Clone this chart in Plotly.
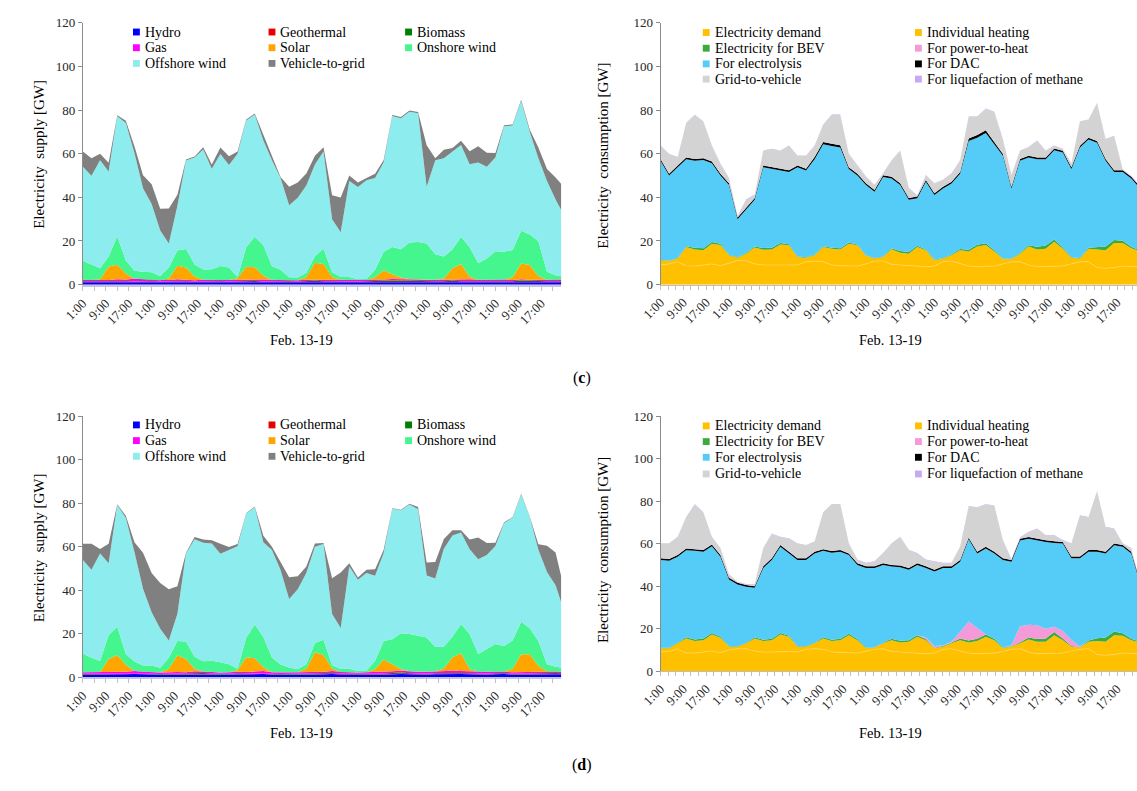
import plotly.graph_objects as go

W, H = 1137, 791
FONT = "Liberation Serif"

# hours since Feb. 13 1:00 (3-hourly samples)
HOURS = list(range(0, 166, 3)) + [167]
TICK_LABELS = ["1:00", "9:00", "17:00"] * 7

# ---------------- (c) supply ----------------
hydro_c = [1.1, 1.1, 1.0, 1.1, 1.2, 1.1, 1.0, 1.1, 1.1, 1.0,
           1.1, 1.2, 1.1, 1.0, 1.1, 1.1, 1.1, 1.0, 1.1, 1.2,
           1.1, 1.0, 1.1, 1.1, 1.1, 1.0, 1.1, 1.2, 1.1, 1.0,
           1.1, 1.1, 1.0, 1.1, 1.1, 1.2, 1.3, 1.1, 1.1, 1.1,
           1.0, 1.1, 1.1, 1.2, 1.1, 1.1, 1.1, 1.0, 1.1, 1.1,
           1.1, 1.2, 1.1, 1.0, 1.1, 1.1, 1.1]
geo_c = [0.15, 0.15, 0.15, 0.15, 0.15, 0.15, 0.15, 0.15, 0.15, 0.15,
         0.15, 0.15, 0.15, 0.15, 0.15, 0.15, 0.15, 0.15, 0.15, 0.15,
         0.15, 0.15, 0.15, 0.15, 0.15, 0.15, 0.15, 0.15, 0.15, 0.15,
         0.15, 0.15, 0.15, 0.15, 0.15, 0.15, 0.15, 0.15, 0.15, 0.15,
         0.15, 0.15, 0.15, 0.15, 0.15, 0.15, 0.15, 0.15, 0.15, 0.15,
         0.15, 0.15, 0.15, 0.15, 0.15, 0.15, 0.15]
bio_c = [0.3, 0.3, 0.4, 0.3, 0.5, 0.3, 0.3, 0.4, 0.3, 0.3,
         0.3, 0.4, 0.3, 0.3, 0.3, 0.4, 0.3, 0.3, 0.3, 0.5,
         0.4, 0.3, 0.3, 0.3, 0.3, 0.3, 0.4, 0.4, 0.3, 0.3,
         0.3, 0.3, 0.3, 0.3, 0.3, 0.4, 0.5, 0.6, 0.3, 0.3,
         0.3, 0.3, 0.3, 0.4, 0.3, 0.3, 0.3, 0.3, 0.3, 0.3,
         0.3, 0.5, 0.4, 0.3, 0.3, 0.3, 0.3]
gas_c = [0.7, 0.6, 0.7, 0.6, 0.6, 0.8, 1.2, 0.8, 0.7, 0.6,
         0.6, 0.7, 0.6, 0.6, 0.7, 0.7, 0.6, 0.7, 0.7, 0.6,
         0.6, 0.9, 0.7, 0.6, 0.6, 0.6, 0.6, 0.6, 0.7, 0.8,
         0.7, 0.7, 0.6, 0.6, 0.6, 0.6, 0.6, 0.7, 1.0, 0.8,
         0.7, 0.7, 0.6, 0.6, 0.7, 0.9, 0.7, 0.8, 1.0, 0.8,
         0.6, 0.6, 0.6, 0.7, 0.7, 0.8, 0.8]
solar_c = [0, 0, 0.2, 6.2, 6.7, 2.7, 0, 0, 0, 0,
           0.7, 6.2, 5.7, 1.7, 0, 0, 0, 0, 0.7, 5.7,
           5.7, 1.7, 0, 0, 0, 0, 1.2, 7.7, 7.2, 1.2,
           0, 0, 0, 0, 1.2, 4.2, 2.2, 0.7, 0, 0,
           0, 0, 0.7, 5.2, 7.2, 1.2, 0, 0, 0, 0,
           1.2, 7.2, 6.7, 1.7, 0, 0, 0]
onshore_c = [8.7, 7.2, 5.0, 4.5, 13, 6, 3.7, 3.4, 3.4, 1.9,
             5, 7, 8.5, 5.5, 4.7, 4.7, 6.4, 5.7, 0.5, 9,
             14, 14, 6.2, 4.7, 1.2, 1.2, 2, 3, 7, 2.2,
             1.2, 1.2, 0.4, 0.4, 3.5, 8.5, 12.5, 13, 16.7, 17.2,
             16.7, 11.7, 10, 8.5, 12.5, 13.5, 7.7, 9.7, 12.7, 12.7,
             12.5, 15, 14, 16, 3.7, 2.0, 1.7]
offshore_c = [43, 40.5, 49.5, 39, 55, 63, 54, 38.3, 31.3, 20.8,
              11, 20.5, 40.5, 49, 55, 46, 51.3, 47, 56.5, 58,
              56, 48, 48.5, 42, 33, 36.5, 40, 42, 44.5, 24.3,
              20.5, 44, 42.3, 45.3, 42, 41, 60, 60, 60, 59,
              26, 43, 45, 45, 42, 38, 46, 42, 43, 57.5,
              57, 59.5, 47, 38, 41.5, 34.7, 30]
v2g_c = [7, 8, 3, 4, 0.5, 1, 3, 6, 9, 10,
         16, 5, 0.5, 0.5, 1, 2, 3, 4, 1, 0.5,
         0.5, 3, 2, 0.5, 8.5, 7, 5.5, 4, 2, 11,
         16, 2.5, 2, 1, 2, 1, 0.5, 0.5, 0.5, 0.5,
         19, 1, 4, 1.5, 2, 6, 7.5, 6.5, 2, 0.5,
         0.5, 0.5, 1, 5, 5.5, 10, 12]

# ---------------- (d) supply ----------------
hydro_d = [1.1, 1.1, 1.0, 1.1, 1.1, 1.3, 1.4, 1.2, 1.1, 1.0,
           1.1, 1.1, 1.1, 1.3, 1.4, 1.1, 1.0, 1.1, 1.3, 1.2,
           1.3, 1.4, 1.1, 1.0, 1.1, 1.1, 1.0, 1.1, 1.3, 1.4,
           1.2, 1.1, 1.0, 1.1, 1.1, 1.1, 1.4, 1.4, 1.3, 1.1,
           1.1, 1.3, 1.4, 1.4, 1.4, 1.3, 1.1, 1.1, 1.3, 1.4,
           1.1, 1.1, 1.1, 1.2, 1.4, 1.4, 1.3]
geo_d = [0.15, 0.15, 0.15, 0.15, 0.15, 0.15, 0.15, 0.15, 0.15, 0.15,
         0.15, 0.15, 0.15, 0.15, 0.15, 0.15, 0.15, 0.15, 0.15, 0.15,
         0.15, 0.15, 0.15, 0.15, 0.15, 0.15, 0.15, 0.15, 0.15, 0.15,
         0.15, 0.15, 0.15, 0.15, 0.15, 0.15, 0.15, 0.15, 0.15, 0.15,
         0.15, 0.15, 0.15, 0.15, 0.15, 0.15, 0.15, 0.15, 0.15, 0.15,
         0.15, 0.15, 0.15, 0.15, 0.15, 0.15, 0.15]
bio_d = [0.3, 0.3, 0.4, 0.3, 0.4, 0.3, 0.3, 0.4, 0.3, 0.3,
         0.3, 0.4, 0.3, 0.3, 0.3, 0.4, 0.3, 0.3, 0.3, 0.4,
         0.4, 0.3, 0.3, 0.3, 0.3, 0.3, 0.4, 0.4, 0.3, 0.3,
         0.3, 0.3, 0.3, 0.3, 0.3, 0.4, 0.4, 0.5, 0.3, 0.3,
         0.3, 0.3, 0.3, 0.4, 0.3, 0.3, 0.3, 0.3, 0.3, 0.3,
         0.3, 0.4, 0.4, 0.3, 0.3, 0.3, 0.3]
gas_d = [0.6, 0.6, 0.6, 0.6, 0.8, 0.7, 0.9, 0.7, 0.6, 0.6,
         0.6, 0.7, 0.6, 0.9, 0.7, 0.6, 0.6, 0.6, 0.7, 0.6,
         0.6, 0.9, 0.7, 0.6, 0.6, 0.6, 0.6, 0.6, 0.7, 0.9,
         0.7, 0.6, 0.6, 0.6, 0.8, 0.7, 0.7, 0.9, 0.9, 0.9,
         0.9, 0.9, 0.9, 0.9, 0.9, 0.8, 0.9, 0.9, 0.8, 0.7,
         0.6, 0.6, 0.6, 0.7, 0.8, 0.7, 0.7]
solar_d = [0, 0, 0.2, 6.2, 7.7, 3.2, 0, 0, 0, 0,
           1.7, 7.7, 6.2, 1.2, 0, 0, 0, 0, 0.7, 6.7,
           6.2, 1.7, 0, 0, 0, 0, 1.7, 9.2, 7.7, 1.2,
           0, 0, 0, 0, 1.2, 5.7, 3.2, 0.7, 0, 0,
           0, 0, 1.2, 6.2, 8.2, 1.2, 0, 0, 0, 0,
           1.7, 8.2, 8.2, 2.7, 0, 0, 0]
onshore_d = [8.7, 6.7, 5, 11, 13, 5, 4.4, 2.9, 3.2, 2.2,
             5, 6.5, 8, 5.5, 4.7, 5.2, 4.7, 3.7, 0.7, 9,
             15.5, 14, 6.7, 3.7, 2.2, 1.4, 2, 4.2, 7, 1.5,
             1.4, 1.7, 0.7, 0.7, 4, 8.5, 11.5, 16.5, 17.2, 16.4,
             15.7, 11.2, 10, 9.5, 13.5, 16, 8.2, 10.4, 12.7, 11.7,
             13, 15, 12, 11.5, 3.2, 2.2, 1.9]
offshore_d = [43, 40.5, 49.5, 33, 56, 62.5, 50.3, 35.3, 24.5, 18,
              8, 12.5, 40.5, 54, 54.5, 54, 50, 52.5, 56.3, 57,
              54, 43.5, 49.5, 43.5, 31.5, 36.8, 42, 44.3, 44, 23.5,
              18.8, 47, 42, 45, 39, 40.5, 60, 56.5, 59.5, 58.3,
              28.5, 31.5, 45, 46.5, 42, 39, 43.5, 43.3, 45, 56.5,
              56.5, 58.5, 51, 42, 42.5, 37.5, 29.8]
v2g_d = [7.5, 12, 2, 9, 0.3, 1, 4.5, 16.5, 18, 21,
         23.5, 12.7, 0.3, 1, 1.5, 1.5, 4.5, 1.5, 1, 0.3,
         0.3, 3, 1.5, 3.5, 10, 6, 3, 1.5, 0.5, 16.5,
         25.5, 1.5, 1, 1.5, 3, 1.5, 0.3, 0.3, 0.3, 1,
         6, 7.5, 4.5, 2.5, 1, 4.5, 10, 5.5, 1.5, 0.3,
         0.3, 0.3, 0.3, 2.5, 12, 15, 12]

# ---------------- (c) consumption ----------------
demand_c = [9, 9.5, 10.5, 8.5, 8.5, 9, 9.5, 8.7, 10, 11,
            11, 9.5, 9, 9, 9.3, 9.3, 9, 10.5, 10.8, 10.5,
            9, 8.7, 8.7, 8.5, 9.5, 10.8, 10.8, 9.3, 9, 8.7,
            8.5, 8.2, 8.5, 10.5, 10.8, 9.5, 8.5, 8.2, 8.2, 8.5,
            9.5, 10.5, 10.5, 9, 8.2, 8.2, 8.2, 8.5, 9.5, 10.5,
            10.5, 7.8, 7.5, 7.8, 8.5, 8.2, 8.2]
heating_c = [2.2, 1.3, 1.5, 8.7, 7.6, 6.7, 9.2, 9.5, 3.5, 1.3,
             3.2, 7.5, 7, 7.1, 9.1, 8.7, 3.7, 1.8, 2.7, 6.7,
             7.4, 7.4, 10, 9.5, 3.7, 1.2, 1.9, 6.9, 5.6, 5.5,
             8.7, 7.5, 2.7, 1.5, 2.7, 6.2, 6.7, 9.3, 10, 6.7,
             2.2, 1.2, 3.7, 8.5, 7.9, 8.2, 11.5, 7.9, 2.8, 1.5,
             5.9, 8.3, 8.2, 11.3, 10.6, 8.5, 7.5]
bev_c = [0.2, 0.2, 0.2, 0.4, 0.8, 1.0, 0.8, 0.5, 0.2, 0.2,
         0.3, 0.5, 0.8, 0.8, 0.7, 0.5, 0.2, 0.2, 0.2, 0.4,
         0.5, 0.6, 0.6, 0.4, 0.2, 0.2, 0.2, 0.5, 0.8, 0.8,
         0.6, 0.4, 0.2, 0.2, 0.3, 0.6, 0.8, 0.8, 0.8, 0.5,
         0.2, 0.2, 0.3, 0.6, 1.2, 1.5, 1.0, 0.6, 0.2, 0.2,
         0.5, 1.2, 1.8, 1.3, 1.0, 0.6, 0.5]
p2h_c = [0, 0, 0, 0, 0, 0, 0, 0, 0, 0,
         0, 0, 0, 0, 0, 0, 0, 0, 0, 0,
         0, 0, 0, 0, 0, 0, 0, 0, 0, 0,
         0, 0, 0, 0, 0, 0, 0, 0, 0, 0,
         0, 0, 0, 0, 0, 0, 0, 0, 0, 0,
         0, 0, 0, 0, 0, 0, 0]
electrolysis_c = [45.4, 39, 41.6, 39.9, 39.9, 40.4, 36.1, 31.3, 31.9, 17.4,
                  19.9, 21.4, 37, 36.1, 33.2, 33.1, 40.9, 39.8, 43.8, 46.7,
                  46.6, 46.1, 33.7, 31.6, 32.2, 30.4, 36.4, 31.9, 30.2, 23.9,
                  21.8, 31, 29.7, 31.9, 32.5, 34.5, 49.8, 49, 50.5, 48.6,
                  47.1, 32.2, 42.3, 40.2, 40.2, 39.6, 40.9, 43.5, 40.5, 50.6,
                  49.6, 47.7, 39.3, 31.2, 31.5, 31.3, 29.4]
dac_c = [0.8, 0.8, 0.8, 0.8, 0.8, 0.8, 0.8, 0.8, 0.8, 0.8,
         0.8, 0.8, 0.8, 0.8, 0.8, 0.8, 0.8, 0.8, 1.0, 1.0,
         1.0, 1.0, 0.8, 0.8, 0.8, 0.8, 0.8, 0.8, 0.8, 0.8,
         0.8, 0.8, 0.8, 0.8, 0.8, 0.8, 1.2, 1.2, 1.2, 1.2,
         0.8, 0.8, 0.8, 0.8, 0.8, 0.8, 0.8, 0.8, 0.8, 0.8,
         0.8, 0.8, 0.8, 0.8, 0.8, 0.8, 0.8]
g2v_c = [5.9, 9, 3.7, 15.7, 20, 16.8, 7.1, 4.5, 2.2, 0.7,
         3.7, 1.4, 6.7, 8.2, 8.2, 11.1, 4.4, 5.9, 5.0, 7.9,
         13.2, 13.9, 6, 3.8, 2.9, 2.2, 0.7, 7.4, 14.9, 4.4,
         0.3, 2.1, 4.4, 2.9, 3.7, 5.2, 9.8, 8.3, 9.8, 13.5,
         6.7, 5.1, 3.7, 3.7, 7.5, 3, 1.1, 0.7, 1.5, 11.1,
         8.2, 17.2, 8.9, 15.6, 0.3, 0.3, 0.3]
liq_c = [0.2, 0.2, 0.2, 0.2, 0.2, 0.2, 0.2, 0.2, 0.2, 0.2,
         0.2, 0.2, 0.2, 0.2, 0.2, 0.2, 0.2, 0.2, 0.2, 0.2,
         0.2, 0.2, 0.2, 0.2, 0.2, 0.2, 0.2, 0.2, 0.2, 0.2,
         0.2, 0.2, 0.2, 0.2, 0.2, 0.2, 0.2, 0.2, 0.2, 0.2,
         0.2, 0.2, 0.2, 0.2, 0.2, 0.2, 0.2, 0.2, 0.2, 0.2,
         0.2, 0.2, 0.2, 0.2, 0.2, 0.2, 0.2]

# ---------------- (d) consumption ----------------
demand_d = [9, 9.3, 10.5, 8.5, 8.5, 9, 9.5, 8.7, 10, 10.5,
            10.5, 9.5, 9, 9, 9.3, 9.3, 9, 10.3, 10.5, 10.3,
            9, 8.7, 8.7, 8.5, 9.3, 10.3, 10.5, 9.3, 9, 8.7,
            8.5, 8.2, 8.5, 10.3, 10.5, 9.5, 8.5, 8.2, 8.2, 8.5,
            9.3, 10.3, 10.5, 9, 8.2, 8.2, 8.2, 8.5, 9.5, 10.3,
            10.5, 7.8, 7.5, 7.8, 8.5, 8.2, 8.2]
heating_d = [1.8, 1.5, 2.6, 6.9, 5.7, 5.6, 7.7, 7.0, 1.5, 1.0,
             2.6, 5.9, 5.2, 5.6, 7.9, 6.9, 2.5, 1.2, 2.6, 5.1,
             5.2, 5.9, 8.2, 6.1, 1.5, 0.8, 2.6, 5.3, 4.5, 5.1,
             7.7, 6.4, 2.3, 1.2, 2.6, 5.1, 5.0, 6.0, 8.0, 6.1,
             1.5, 1.2, 2.6, 5.9, 5.6, 5.6, 8.7, 6.1, 2.0, 0.8,
             3.3, 6.4, 6.3, 9.1, 8.1, 6.4, 5.6]
bev_d = [0.2, 0.2, 0.3, 0.5, 0.7, 0.8, 0.8, 0.5, 0.2, 0.2,
         0.3, 0.5, 0.6, 0.7, 0.7, 0.5, 0.2, 0.2, 0.3, 0.5,
         0.6, 0.7, 0.7, 0.5, 0.2, 0.2, 0.3, 0.6, 0.8, 0.8,
         0.7, 0.5, 0.2, 0.3, 0.4, 0.8, 0.9, 1.0, 1.0, 0.6,
         0.2, 0.2, 0.5, 0.9, 1.3, 1.6, 1.5, 0.8, 0.3, 0.2,
         0.6, 1.3, 2.0, 1.8, 1.2, 0.6, 0.5]
p2h_d = [0, 0, 0, 0, 0, 0, 0, 0, 0, 0,
         0, 0, 0, 0, 0, 0, 0, 0, 0, 0,
         0, 0, 0, 0, 0, 0, 0, 0, 0, 0,
         0, 0.8, 0.8, 0.3, 0.5, 3, 9, 5, 0, 0,
         0, 0.5, 7.5, 6, 6.5, 4.5, 2.5, 3.5, 3, 0.3,
         0, 0, 0, 0, 0, 0, 0]
electrolysis_d = [41.3, 41, 40.4, 41, 41.7, 40.8, 40.8, 37.6, 31.4, 29.1,
                  26.3, 23.3, 33.7, 37, 40.6, 38.7, 40.6, 40.6, 42, 40.7,
                  40.9, 40.9, 37, 34.9, 37.5, 37.2, 36.6, 34, 34.6, 33.1,
                  33.1, 32.6, 35.1, 36.4, 34.5, 33.1, 38.6, 35.2, 40.5, 40.2,
                  41.3, 39.3, 40.4, 40.5, 39.9, 40.9, 39.4, 41.1, 38.3, 41.5,
                  41.8, 40.7, 39.6, 40.5, 40.7, 40.2, 31.9]
dac_d = [0.8, 0.8, 0.8, 0.8, 0.8, 0.8, 0.8, 0.8, 0.8, 0.8,
         0.8, 0.8, 0.8, 0.8, 0.8, 0.8, 0.8, 0.8, 0.8, 0.8,
         0.8, 0.8, 0.8, 0.8, 0.8, 0.8, 0.8, 0.8, 0.8, 0.8,
         0.8, 0.8, 0.8, 0.8, 0.8, 0.8, 0.8, 0.8, 0.8, 0.8,
         0.8, 0.8, 0.8, 0.8, 0.8, 0.8, 0.8, 0.8, 0.8, 0.8,
         0.8, 0.8, 0.8, 0.8, 0.8, 0.8, 0.8]
g2v_d = [6.9, 7.2, 8.4, 14.6, 21.1, 17.6, 3.4, 3.1, 1.5, 0.3,
         0.3, 0.8, 8.4, 11.5, 3.7, 6.1, 6.9, 6.1, 4.6, 17.2,
         22, 21.5, 4.6, 1.5, 1.5, 2.2, 4.6, 10, 13.3, 8.4,
         4.6, 3, 3.8, 1.5, 1.5, 6.2, 14.7, 20.7, 20, 21.5,
         8.4, 0.3, 0.5, 2.3, 4.6, 2.2, 2.7, 0.7, 6.1, 19.2,
         15.3, 27.6, 11.5, 6.9, 0.7, 1.5, 0.3]
liq_d = [0.2, 0.2, 0.2, 0.2, 0.2, 0.2, 0.2, 0.2, 0.2, 0.2,
         0.2, 0.2, 0.2, 0.2, 0.2, 0.2, 0.2, 0.2, 0.2, 0.2,
         0.2, 0.2, 0.2, 0.2, 0.2, 0.2, 0.2, 0.2, 0.2, 0.2,
         0.2, 0.2, 0.2, 0.2, 0.2, 0.2, 0.2, 0.2, 0.2, 0.2,
         0.2, 0.2, 0.2, 0.2, 0.2, 0.2, 0.2, 0.2, 0.2, 0.2,
         0.2, 0.2, 0.2, 0.2, 0.2, 0.2, 0.2]

SUPPLY_NAMES = ["Hydro", "Geothermal", "Biomass", "Gas", "Solar",
                "Onshore wind", "Offshore wind", "Vehicle-to-grid"]
SUPPLY_COLORS = ["#0000FF", "#E60000", "#008000", "#FF00FF", "#FFA500",
                 "#45F58E", "#8CECEE", "#808080"]
CONS_NAMES = ["Electricity demand", "Individual heating", "Electricity for BEV",
              "For power-to-heat", "For electrolysis", "For DAC",
              "Grid-to-vehicle", "For liquefaction of methane"]
CONS_COLORS = ["#FFC000", "#FFC000", "#3DAA3D", "#F49AD9", "#55CCF8",
               "#000000", "#D3D3D3", "#C8A8F0"]

supply_c = [hydro_c, geo_c, bio_c, gas_c, solar_c, onshore_c, offshore_c, v2g_c]
supply_d = [hydro_d, geo_d, bio_d, gas_d, solar_d, onshore_d, offshore_d, v2g_d]
cons_c = [demand_c, heating_c, bev_c, p2h_c, electrolysis_c, dac_c, g2v_c, liq_c]
cons_d = [demand_d, heating_d, bev_d, p2h_d, electrolysis_d, dac_d, g2v_d, liq_d]

for s in supply_c + supply_d + cons_c + cons_d:
    assert len(s) == len(HOURS), len(s)

fig = go.Figure()


def add_stack(series, names, colors, xa, ya, group):
    for vals, name, col in zip(series, names, colors):
        line = dict(width=0, color=col)
        if name == "Electricity demand":
            line = dict(width=0.7, color="#FFD75E")
        fig.add_trace(go.Scatter(
            x=HOURS, y=vals, name=name, mode="lines", stackgroup=group,
            line=line, fillcolor=col, xaxis=xa, yaxis=ya,
            showlegend=False, hoverinfo="skip"))


add_stack(supply_c, SUPPLY_NAMES, SUPPLY_COLORS, "x", "y", "sc")
add_stack(cons_c, CONS_NAMES, CONS_COLORS, "x2", "y2", "cc")
add_stack(supply_d, SUPPLY_NAMES, SUPPLY_COLORS, "x3", "y3", "sd")
add_stack(cons_d, CONS_NAMES, CONS_COLORS, "x4", "y4", "cd")


def px(x):
    return x / W


def py(y):
    return 1 - y / H


LEFT_X = [px(64), px(551)]
RIGHT_X = [px(652), 1.0]
TOP_Y = [py(283), py(16)]
BL_Y = [py(683), py(417)]
BR_Y = [py(677), py(417)]

tick_font = dict(family=FONT, size=13, color="#262626")

left_tv = [v for v in range(0, 167, 4)]
left_tt = [TICK_LABELS[v // 8] if v % 8 == 0 else "" for v in left_tv]
right_tv = [k * 8 / 3 for k in range(0, 63)]
right_tt = [TICK_LABELS[k // 3] if k % 3 == 0 else "" for k in range(0, 63)]


def xaxis_cfg(domain, anchor, tv, tt, linecol, lw):
    return dict(domain=domain, anchor=anchor, range=[0, 167],
                tickmode="array", tickvals=tv, ticktext=tt, tickangle=-45,
                ticks="outside", ticklen=4, tickcolor="#BFBFBF",
                showline=True, linecolor=linecol, linewidth=lw,
                showgrid=False, zeroline=False, tickfont=tick_font)


def yaxis_cfg(domain, anchor):
    return dict(domain=domain, anchor=anchor, range=[0, 120],
                tickmode="array", tickvals=[0, 20, 40, 60, 80, 100, 120],
                ticks="outside", ticklen=4, tickcolor="#8C8C8C",
                showline=True, linecolor="#8C8C8C", linewidth=1,
                showgrid=False, zeroline=False, tickfont=tick_font)


fig.update_layout(
    width=W, height=H, margin=dict(l=0, r=0, t=0, b=0),
    paper_bgcolor="white", plot_bgcolor="white",
    showlegend=False,
    xaxis=xaxis_cfg(LEFT_X, "y", left_tv, left_tt, "#C4C4DE", 2),
    yaxis=yaxis_cfg(TOP_Y, "x"),
    xaxis2=xaxis_cfg(RIGHT_X, "y2", right_tv, right_tt, "#BFBFBF", 1),
    yaxis2=yaxis_cfg(TOP_Y, "x2"),
    xaxis3=xaxis_cfg(LEFT_X, "y3", left_tv, left_tt, "#C4C4DE", 2),
    yaxis3=yaxis_cfg(BL_Y, "x3"),
    xaxis4=xaxis_cfg(RIGHT_X, "y4", right_tv, right_tt, "#BFBFBF", 1),
    yaxis4=yaxis_cfg(BR_Y, "x4"),
)

annotations = []
shapes = []
LEG_FONT = dict(family=FONT, size=14, color="#000000")


def legend_block(names, colors, sq_xs, txt_xs, rows, ncol):
    for k, (name, col) in enumerate(zip(names, colors)):
        r, c = divmod(k, ncol)
        yc = rows[r]
        x0 = sq_xs[c]
        shapes.append(dict(type="rect", xref="paper", yref="paper",
                           x0=px(x0), x1=px(x0 + 7), y0=py(yc + 3.5), y1=py(yc - 3.5),
                           fillcolor=col, line=dict(width=0)))
        annotations.append(dict(xref="paper", yref="paper", x=px(txt_xs[c]), y=py(yc),
                                text=name, showarrow=False, xanchor="left",
                                yanchor="middle", font=LEG_FONT))


legend_block(SUPPLY_NAMES, SUPPLY_COLORS, [115, 253, 392], [125, 263, 402],
             [25.5, 41.5, 57.5], 3)
legend_block(SUPPLY_NAMES, SUPPLY_COLORS, [115, 253, 392], [125, 263, 402],
             [426, 442, 458], 3)
legend_block(CONS_NAMES, CONS_COLORS, [695, 911], [705, 921],
             [26, 42, 58, 73.5], 2)
legend_block(CONS_NAMES, CONS_COLORS, [695, 911], [705, 921],
             [427, 443, 459, 476], 2)

TITLE_FONT = dict(family=FONT, size=15, color="#000000")
for (x, y, txt) in [(19, 150, "Electricity\u00a0 supply [GW]"),
                    (594, 152, "Electricity\u00a0 consumption [GW]"),
                    (19, 551, "Electricity\u00a0 supply [GW]"),
                    (594, 554, "Electricity\u00a0 consumption [GW]")]:
    annotations.append(dict(xref="paper", yref="paper", x=px(x), y=py(y), text=txt,
                            textangle=-90, showarrow=False, xanchor="center",
                            yanchor="middle", font=TITLE_FONT))

XT_FONT = dict(family=FONT, size=14.5, color="#000000")
for (x, y) in [(287, 339), (886, 339), (287, 740), (886, 740)]:
    annotations.append(dict(xref="paper", yref="paper", x=px(x), y=py(y),
                            text="Feb. 13-19", showarrow=False, xanchor="center",
                            yanchor="middle", font=XT_FONT))

for (y, lab) in [(378, "c"), (773, "d")]:
    annotations.append(dict(xref="paper", yref="paper", x=px(572), y=py(y),
                            text="(<b>%s</b>)" % lab, showarrow=False, xanchor="center",
                            yanchor="middle", font=dict(family=FONT, size=16, color="#000")))

fig.update_layout(annotations=annotations, shapes=shapes)
fig.write_html("out.html")
